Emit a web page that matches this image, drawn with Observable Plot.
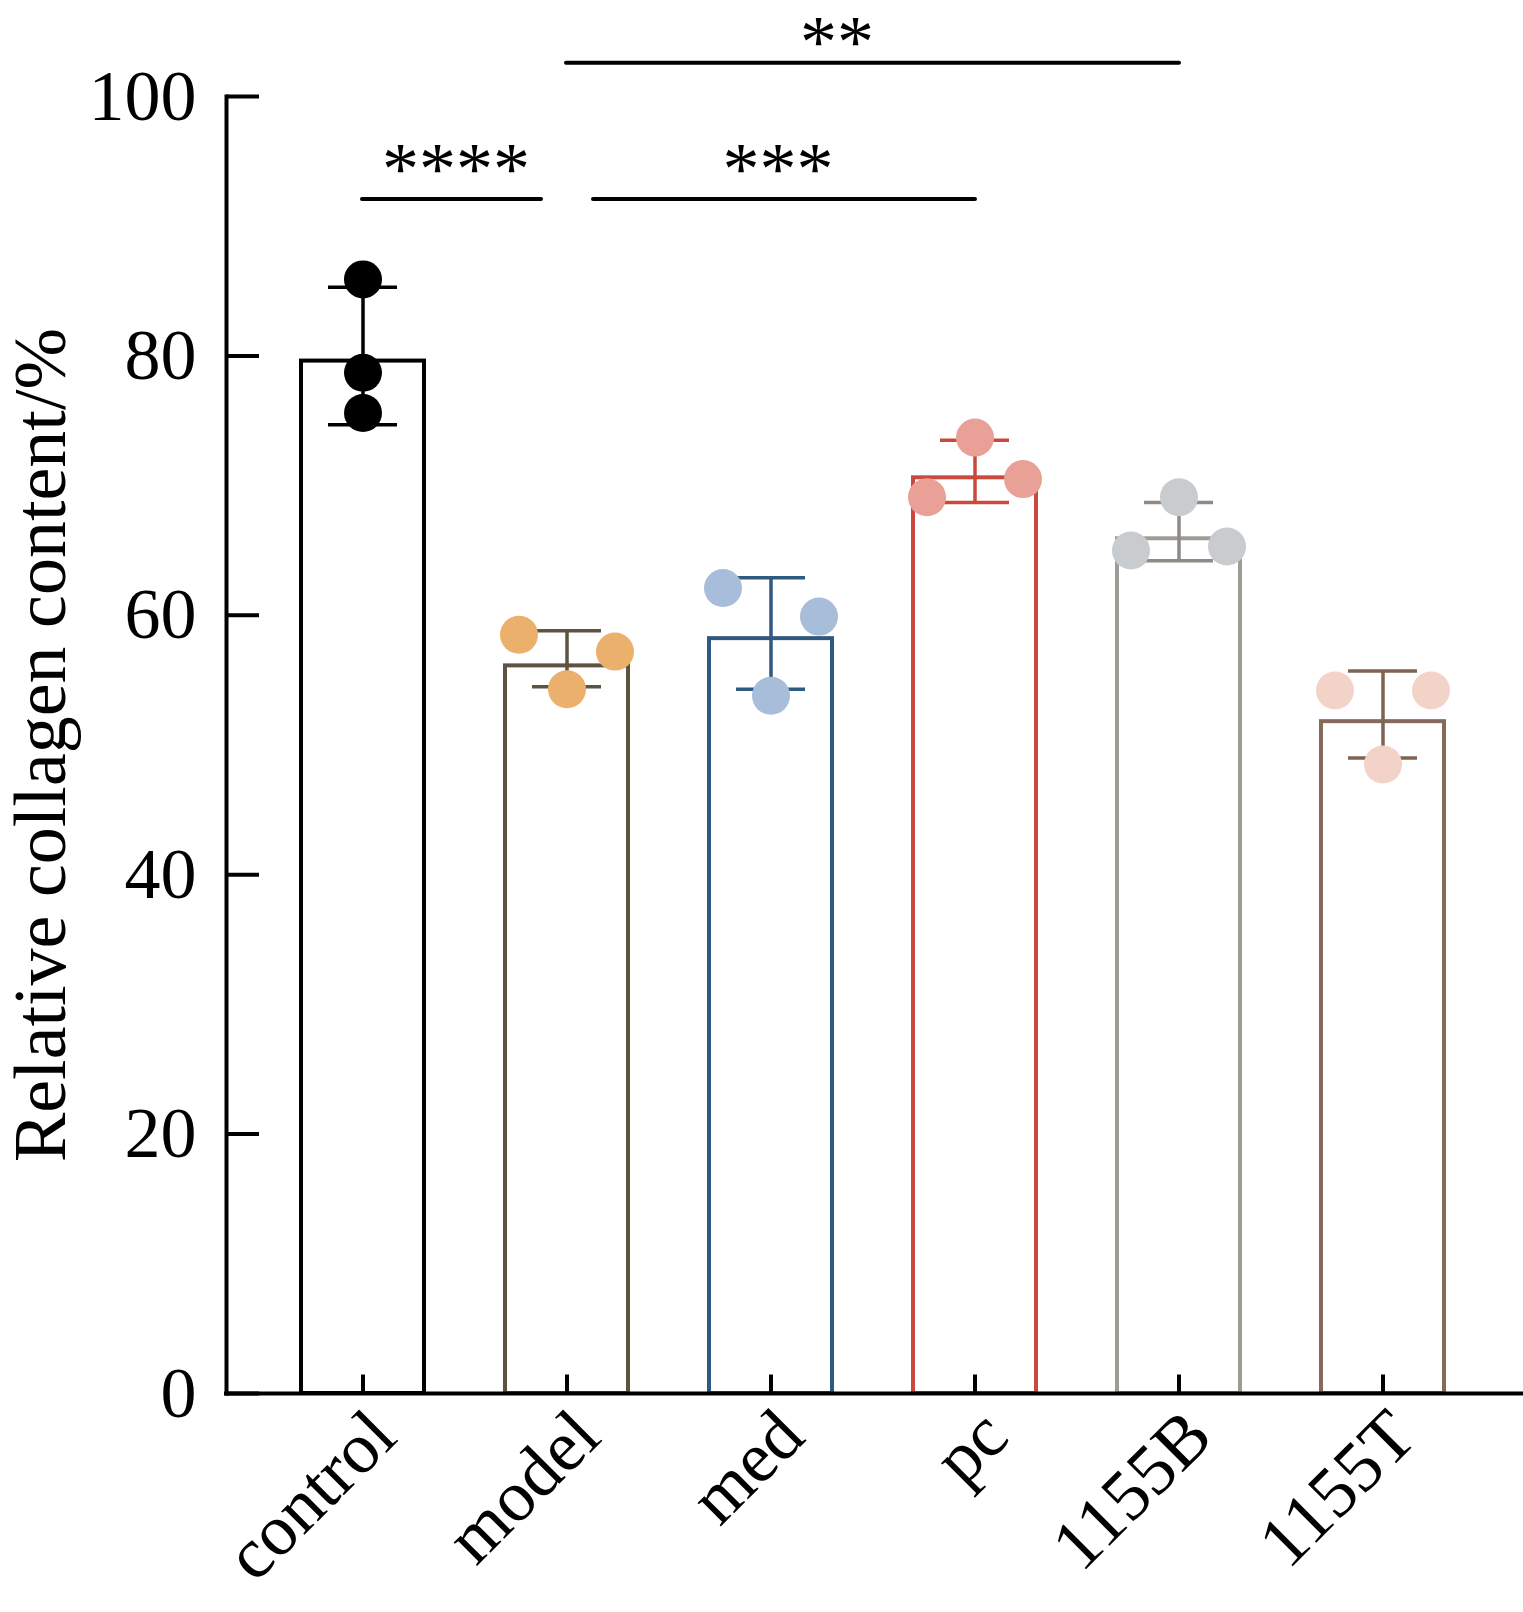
<!DOCTYPE html>
<html>
<head>
<meta charset="utf-8">
<script src="https://cdn.jsdelivr.net/npm/d3@7"></script>
<script src="https://cdn.jsdelivr.net/npm/@observablehq/plot@0.6"></script>
<style>
  html, body { margin: 0; padding: 0; background: #ffffff; }
  #chart svg { display: block; }
</style>
</head>
<body>
<div id="chart"></div>
<script>
// ---- data ----
const groups = ["control", "model", "med", "pc", "1155B", "1155T"];
const means = [79.6, 56.1, 58.2, 70.6, 65.9, 51.8];
const errLow = [74.7, 54.5, 54.3, 68.7, 64.2, 49.0];
const errHigh = [85.3, 58.8, 62.9, 73.5, 68.7, 55.7];
const pointValues = [
  [85.9, 78.7, 75.6],
  [58.5, 57.2, 54.3],
  [62.1, 59.9, 53.8],
  [73.7, 70.5, 69.1],
  [69.1, 65.3, 65.0],
  [54.2, 54.2, 48.5]
];
// horizontal placement of each replicate: -1 left, 0 centre, 1 right
const pointSides = [
  [0, 0, 0],
  [-1, 1, 0],
  [-1, 1, 0],
  [0, 1, -1],
  [0, 1, -1],
  [-1, 1, 0]
];
const barColors = ["#000000", "#5e5242", "#30597f", "#c9493f", "#9f9c96", "#86695a"];
const errColors = ["#000000", "#5e5242", "#30597f", "#c9493f", "#8e8b86", "#7f6353"];
const dotColors = ["#000000", "#ebb06c", "#a7bdd9", "#e9a097", "#c9cccf", "#f3d3c7"];
const yTicks = [0, 20, 40, 60, 80, 100];
const yLabel = "Relative collagen content/%";
const sigLabels = ["****", "***", "**"];
const sigFrom = ["control", "model", "model"];
const sigTo = ["model", "pc", "1155B"];
const sigLineY = [92.1, 92.1, 102.6];
const sigTextY = [92.5, 92.5, 102.25];
const sigTextAt = ["control", "med", "med"];

// ---- tables built from the arrays ----
const bars = groups.map((g, i) => ({
  group: g, mean: means[i], lo: errLow[i], hi: errHigh[i],
  stroke: barColors[i], err: errColors[i]
}));
const points = groups.flatMap((g, i) => pointValues[i].map((v, j) => ({
  group: g, value: v, side: pointSides[i][j], fill: dotColors[i]
})));
const sig = sigLabels.map((s, i) => ({
  label: s, from: sigFrom[i], to: sigTo[i], y: sigLineY[i], ty: sigTextY[i], at: sigTextAt[i]
}));

const font = "'Liberation Serif', 'Times New Roman', Times, serif";
const W = 1523, H = 1612;
const mL = 226, mR = 0, mT = 96, mB = 219;
const frameW = W - mL - mR, frameH = H - mT - mB;

const dotMark = (side, dx) => Plot.dot(points.filter(d => d.side === side), {
  x: "group", y: "value", r: 19, fill: "fill", stroke: "none", dx
});

const chart = Plot.plot({
  width: W,
  height: H,
  marginLeft: mL,
  marginRight: mR,
  marginTop: mT,
  marginBottom: mB,
  style: { fontFamily: font, background: "#ffffff", color: "#000000" },
  x: { type: "band", domain: groups, paddingInner: 0.396, paddingOuter: 0.37, align: 0.49, label: null },
  y: { type: "linear", domain: [0, 100], label: null },
  color: { type: "identity" },
  marks: [
    // bars
    Plot.barY(bars, { x: "group", y: "mean", fill: "#ffffff", stroke: "stroke", strokeWidth: 4 }),
    // error bars
    Plot.ruleX(bars, { x: "group", y1: "lo", y2: "hi", stroke: "err", strokeWidth: 3.5 }),
    Plot.tickY(bars, { x: "group", y: "hi", stroke: "err", strokeWidth: 3.5, insetLeft: 27, insetRight: 27 }),
    Plot.tickY(bars, { x: "group", y: "lo", stroke: "err", strokeWidth: 3.5, insetLeft: 27, insetRight: 27 }),
    // replicate points
    dotMark(-1, -48),
    dotMark(0, 0),
    dotMark(1, 48),
    // axes lines
    Plot.frame({ anchor: "left", stroke: "#000", strokeWidth: 4 }),
    Plot.ruleY([0], { stroke: "#000", strokeWidth: 4, insetLeft: -2 }),
    // inward ticks
    Plot.tickY(yTicks, { y: d => d, stroke: "#000", strokeWidth: 4, insetRight: frameW - 33 }),
    Plot.tickX(groups, { x: d => d, stroke: "#000", strokeWidth: 4, insetTop: frameH - 18.5 }),
    // axes labels
    Plot.axisY({ ticks: yTicks, tickSize: 0, tickPadding: 30, fontSize: 72, fontFamily: font, label: null }),
    Plot.axisX({ tickSize: 0, tickRotate: -45, tickPadding: 30, dx: 20, fontSize: 72, fontFamily: font, label: null }),
    Plot.text([yLabel], { text: d => d, frameAnchor: "left", rotate: -90, dx: -162, lineAnchor: "bottom", textAnchor: "middle", fontSize: 74, fontFamily: font, fill: "#000" }),
    // significance brackets
    Plot.ruleY([sig[0]], { x1: "from", x2: "to", y: "y", stroke: "#000", strokeWidth: 4, strokeLinecap: "round", insetLeft: 61, insetRight: 87 }),
    Plot.ruleY([sig[1]], { x1: "from", x2: "to", y: "y", stroke: "#000", strokeWidth: 4, strokeLinecap: "round", insetLeft: 88, insetRight: 61 }),
    Plot.ruleY([sig[2]], { x1: "from", x2: "to", y: "y", stroke: "#000", strokeWidth: 4, strokeLinecap: "round", insetLeft: 61, insetRight: 61 }),
    Plot.text([sig[0]], { x: "at", y: "ty", text: "label", dx: 93, lineAnchor: "bottom", fontSize: 74, fontFamily: font, fill: "#000" }),
    Plot.text([sig[1]], { x: "at", y: "ty", text: "label", dx: 7, lineAnchor: "bottom", fontSize: 74, fontFamily: font, fill: "#000" }),
    Plot.text([sig[2]], { x: "at", y: "ty", text: "label", dx: 66, lineAnchor: "bottom", fontSize: 74, fontFamily: font, fill: "#000" })
  ]
});
document.getElementById("chart").appendChild(chart);
</script>
</body>
</html>
